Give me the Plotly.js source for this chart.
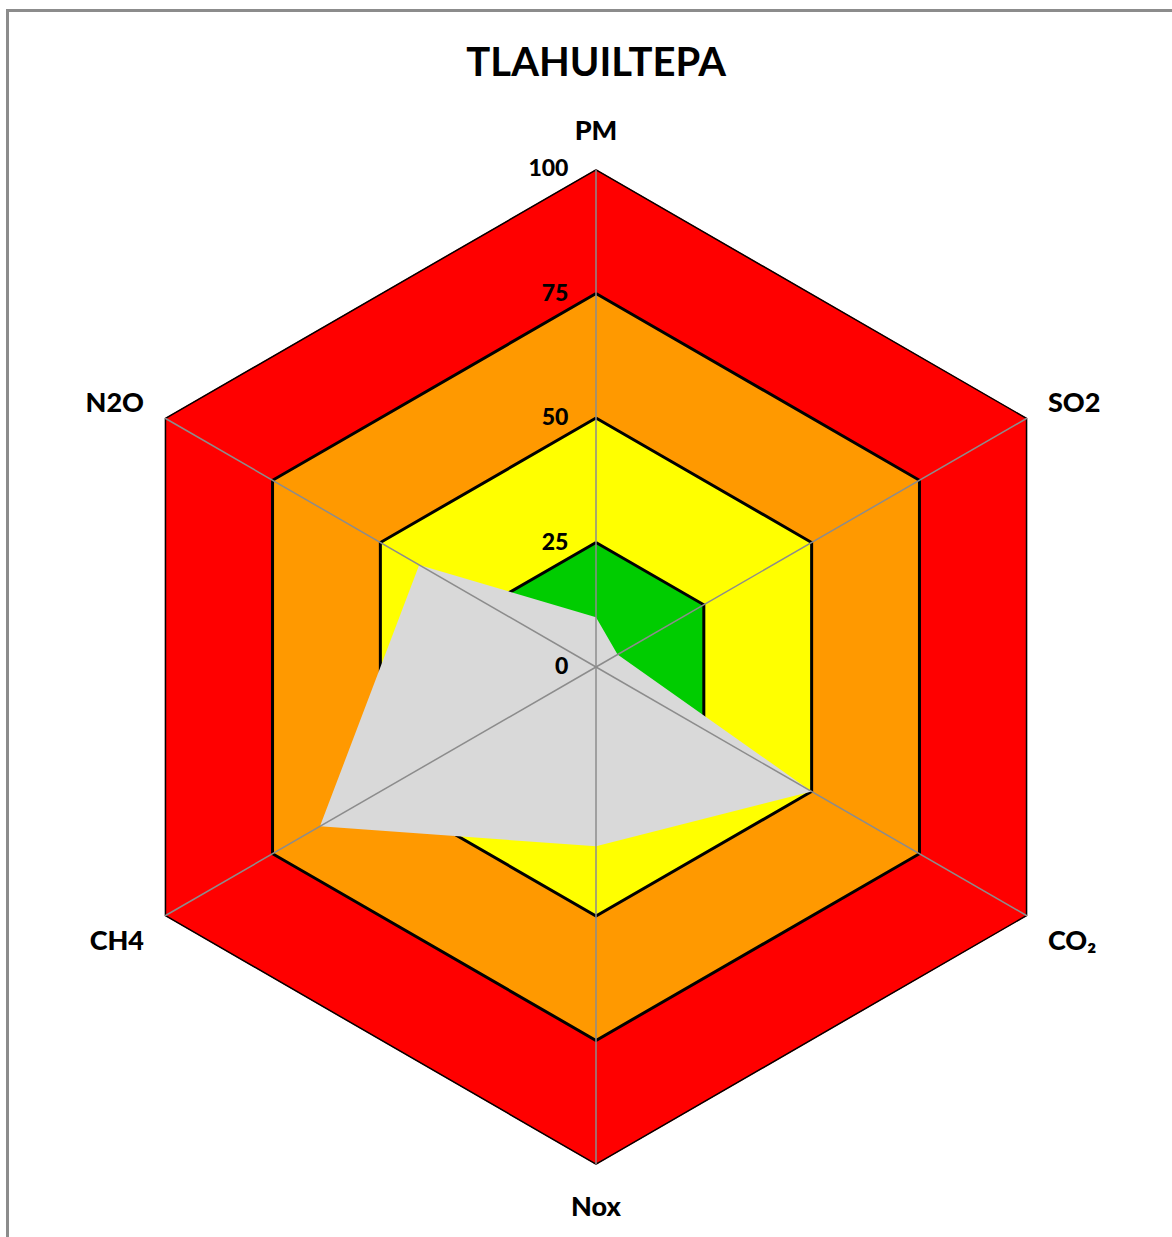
<!DOCTYPE html>
<html>
<head>
<meta charset="utf-8">
<script src="https://cdn.plot.ly/plotly-3.0.1.min.js"></script>
<style>
  html,body{margin:0;padding:0;background:#fff;}
  #frame{position:absolute;left:6px;top:9px;width:1200px;height:1300px;border-left:3px solid #8c8c8c;border-top:3px solid #8c8c8c;pointer-events:none;}
  #chart{position:absolute;left:0;top:0;width:1172px;height:1237px;}
</style>
</head>
<body>
<div id="chart"></div>
<div id="frame"></div>
<script>
const categories = ['PM', 'SO2', 'CO₂', 'Nox', 'CH4', 'N2O'];
const values = [10, 5, 50, 36, 64, 41];
const bandLevels = [100, 75, 50, 25];
const bandColors = ['#ff0000', '#ff9900', '#ffff00', '#00cc00'];
const radialTicks = [0, 25, 50, 75, 100];
const chartTitle = 'TLAHUILTEPA';

const closed = arr => arr.concat([arr[0]]);
const thetaClosed = closed(categories);

const traces = [];
bandLevels.forEach((lvl, i) => {
  traces.push({
    type: 'scatterpolar',
    r: thetaClosed.map(() => lvl),
    theta: thetaClosed,
    mode: 'lines',
    fill: 'toself',
    fillcolor: bandColors[i],
    line: {color: '#000000', width: 3},
    hoverinfo: 'skip',
    showlegend: false
  });
});
traces.push({
  type: 'scatterpolar',
  r: closed(values),
  theta: thetaClosed,
  mode: 'lines',
  fill: 'toself',
  fillcolor: '#d9d9d9',
  line: {color: 'rgba(0,0,0,0)', width: 0},
  name: chartTitle,
  showlegend: false
});
categories.forEach(c => {
  traces.push({
    type: 'scatterpolar',
    r: [0, radialTicks[radialTicks.length - 1]],
    theta: [c, c],
    mode: 'lines',
    line: {color: '#8c8c8c', width: 1.5},
    hoverinfo: 'skip',
    showlegend: false
  });
});

const fam = 'Lato, "Open Sans", sans-serif';
const layout = {
  width: 1172,
  height: 1237,
  margin: {l: 98, r: 78, t: 169, b: 72},
  paper_bgcolor: 'rgba(0,0,0,0)',
  showlegend: false,
  font: {family: fam, color: '#000'},
  title: {
    text: '<b>' + chartTitle + '</b>',
    x: 0.5087, xanchor: 'center',
    y: 1 - 62 / 1237, yanchor: 'middle', yref: 'container',
    font: {size: 40, color: '#000', family: fam}
  },
  polar: {
    gridshape: 'linear',
    bgcolor: 'rgba(0,0,0,0)',
    domain: {x: [0, 1], y: [0, 1]},
    angularaxis: {
      type: 'category',
      categoryarray: categories,
      direction: 'clockwise',
      rotation: 90,
      showgrid: false,
      showline: false,
      ticks: 'outside',
      ticklen: 18,
      tickcolor: 'rgba(0,0,0,0)',
      tickfont: {size: 27, color: '#000', family: fam, weight: 900}
    },
    radialaxis: {
      range: [0, 100],
      angle: 90,
      tickangle: 90,
      side: 'counterclockwise',
      tickvals: radialTicks,
      ticktext: radialTicks.map(String),
      showgrid: false,
      showline: false,
      ticks: 'outside',
      ticklen: 19,
      tickcolor: 'rgba(0,0,0,0)',
      tickfont: {size: 23, color: '#000', family: fam, weight: 900},
      layer: 'above traces'
    }
  }
};

Plotly.newPlot('chart', traces, layout, {displayModeBar: false, staticPlot: true});
</script>
</body>
</html>
